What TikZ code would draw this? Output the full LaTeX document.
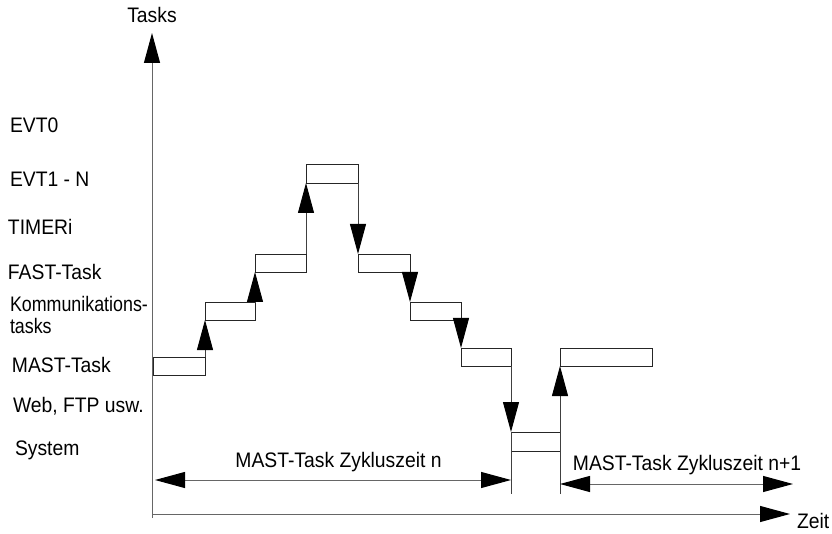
\documentclass[tikz,border=0pt]{standalone}
\usepackage{fontspec}
\setmainfont[FakeStretch=0.92]{Liberation Sans}
\newfontfamily\narrowfont[FakeStretch=0.85]{Liberation Sans}
\usetikzlibrary{arrows.meta}
\begin{document}
\begin{tikzpicture}[x=1pt,y=-1pt,
  every node/.style={inner sep=0pt,outer sep=0pt,font=\fontsize{21}{24}\selectfont},
  tbox/.style={draw=black!85,line width=0.9pt,rectangle,anchor=north west},
  tip/.style={-{Triangle[length=30pt,width=16pt,color=black]}},
  dtip/.style={{Triangle[length=30pt,width=16pt,color=black]}-{Triangle[length=30pt,width=16pt,color=black]}},
  stepline/.style={draw=black!75,line width=0.9pt},
  axisline/.style={draw=black!60,line width=1pt},
  lbl/.style={anchor=base west}]
\useasboundingbox (0,0) rectangle (832,534);

% boxes
\node[tbox,minimum width=52pt,minimum height=18pt] (m1) at (153,357) {};
\node[tbox,minimum width=50pt,minimum height=18pt] (k1) at (205,302) {};
\node[tbox,minimum width=51pt,minimum height=18pt] (f1) at (255,254) {};
\node[tbox,minimum width=52pt,minimum height=19pt] (e1) at (306,164) {};
\node[tbox,minimum width=52pt,minimum height=18pt] (f2) at (358,254) {};
\node[tbox,minimum width=51pt,minimum height=18pt] (k2) at (410,302) {};
\node[tbox,minimum width=50pt,minimum height=18pt] (m2) at (461,348) {};
\node[tbox,minimum width=49pt,minimum height=19pt] (s) at (511,432) {};
\node[tbox,minimum width=92pt,minimum height=18pt] (m3) at (560,348) {};

% coordinates
\coordinate (yb) at (152,518);
\coordinate (yt) at (152,33);
\coordinate (xl) at (152,514);
\coordinate (xr) at (790,514);
\coordinate (b1) at (511,494);
\coordinate (b2) at (560,494);
\coordinate (z1l) at (155,480);
\coordinate (z1r) at (511,480);
\coordinate (z2l) at (560,484);
\coordinate (z2r) at (793,484);

% axes
\draw[axisline,tip] (yb) -- (yt);
\draw[axisline,tip] (xl) -- (xr);

% step connectors
\draw[stepline,tip] (m1.north east) -- (k1.south west);
\draw[stepline,tip] (k1.north east) -- (f1.south west);
\draw[stepline,tip] (f1.north east) -- (e1.south west);
\draw[stepline,tip] (e1.south east) -- (f2.north west);
\draw[stepline,tip] (f2.south east) -- (k2.north west);
\draw[stepline,tip] (k2.south east) -- (m2.north west);
\draw[stepline,tip] (m2.south east) -- (s.north west);
\draw[stepline] (s.north west) -- (b1);
\draw[stepline,tip] (b2) -- (m3.south west);

% cycle time arrows
\draw[axisline,dtip] (z1l) -- (z1r);
\draw[axisline,dtip] (z2l) -- (z2r);

% labels
\node[anchor=base] (tasks) at (152,23) {Tasks};
\node[anchor=base west] (zeit) at (797,528) {Zeit};
\node[anchor=base] (zn) at (338.5,467) {MAST-Task Zykluszeit n};
\node[anchor=base] (zn1) at (687,470) {MAST-Task Zykluszeit n+1};

\node[lbl] (l1) at (10,133) {EVT0};
\node[lbl] (l2) at (10,187) {EVT1 - N};
\node[lbl] (l3) at (8,235) {TIMERi};
\node[lbl] (l4) at (8,280) {FAST-Task};
\node[lbl,font=\fontsize{21}{24}\narrowfont] (l5a) at (10,312) {Kommunikations-};
\node[lbl,font=\fontsize{21}{24}\narrowfont] (l5b) at (10,334) {tasks};
\node[lbl] (l6) at (12,372) {MAST-Task};
\node[lbl] (l7) at (13,412) {Web, FTP usw.};
\node[lbl] (l8) at (15,455) {System};
\end{tikzpicture}
\end{document}
